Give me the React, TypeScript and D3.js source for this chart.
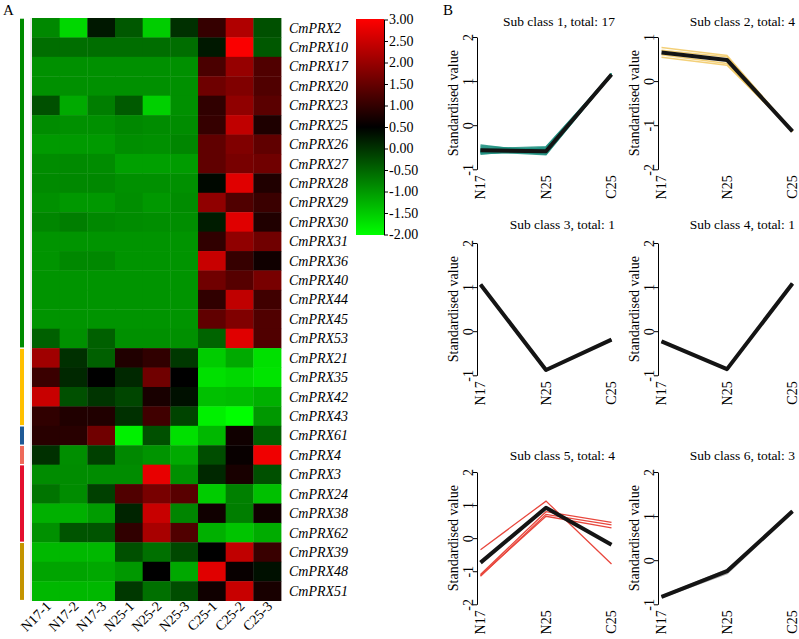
import React, { useEffect, useRef } from "react";
import * as d3 from "d3";

const W = 799;
const H = 639;

// ---------- Panel A: heatmap data ----------
const samples = ["N17-1", "N17-2", "N17-3", "N25-1", "N25-2", "N25-3", "C25-1", "C25-2", "C25-3"];

const genes = [
  "CmPRX2", "CmPRX10", "CmPRX17", "CmPRX20", "CmPRX23", "CmPRX25", "CmPRX26", "CmPRX27",
  "CmPRX28", "CmPRX29", "CmPRX30", "CmPRX31", "CmPRX36", "CmPRX40", "CmPRX44", "CmPRX45",
  "CmPRX53", "CmPRX21", "CmPRX35", "CmPRX42", "CmPRX43", "CmPRX61", "CmPRX4", "CmPRX3",
  "CmPRX24", "CmPRX38", "CmPRX62", "CmPRX39", "CmPRX48", "CmPRX51",
];

const heatValues: number[][] = [
  [-0.83, -1.61, 0.26, -0.36, -1.51, 0.03, 1.02, 2.23, -0.28],
  [-0.58, -0.58, -0.58, -0.58, -0.58, -0.58, 0.26, 2.95, -0.36],
  [-0.91, -0.91, -0.91, -0.91, -0.91, -0.91, 1.23, 1.97, 1.28],
  [-0.91, -0.91, -0.91, -0.91, -0.91, -0.91, 1.58, 1.75, 1.28],
  [-0.28, -1.17, -0.74, -0.38, -1.54, -0.91, 0.97, 1.91, 1.38],
  [-0.87, -0.91, -0.91, -0.83, -0.87, -0.87, 1.02, 2.38, 0.79],
  [-1.01, -1.01, -1.01, -0.89, -0.91, -0.81, 1.44, 1.75, 1.44],
  [-0.87, -0.85, -0.87, -1.07, -1.07, -1.03, 1.44, 1.68, 1.6],
  [-0.85, -0.83, -0.83, -0.91, -0.91, -0.91, 0.42, 2.7, 0.81],
  [-0.91, -0.99, -0.99, -0.89, -0.99, -0.87, 1.91, 1.28, 1.07],
  [-0.81, -0.74, -0.83, -0.87, -0.89, -0.89, 0.23, 2.7, 0.81],
  [-0.95, -0.95, -0.95, -0.95, -0.95, -0.95, 0.97, 1.91, 1.6],
  [-0.95, -0.83, -0.83, -0.95, -0.95, -0.95, 2.46, 1.03, 0.66],
  [-0.95, -0.95, -0.95, -0.95, -0.95, -0.95, 1.6, 1.34, 1.68],
  [-0.95, -0.95, -0.95, -0.95, -0.95, -0.95, 0.97, 2.38, 1.13],
  [-0.95, -0.95, -0.95, -0.95, -0.95, -0.95, 1.44, 1.75, 1.28],
  [-0.44, -0.91, -0.44, -0.91, -0.91, -0.91, -0.48, 2.7, 1.28],
  [2.07, 0.03, -0.44, 0.81, 0.97, -0.05, -1.5, -1.17, -1.7],
  [1.07, 0.11, 0.5, 0.11, 1.6, 0.5, -1.7, -1.62, -1.74],
  [2.46, -0.28, -0.01, -0.19, 0.74, 0.34, -1.38, -1.34, -1.23],
  [0.97, 0.81, 0.81, 0.03, 1.13, -0.17, -1.85, -2.0, -0.99],
  [0.89, 0.89, 1.6, -1.85, -0.28, -1.7, -1.3, 0.66, -0.44],
  [0.03, -0.89, -0.13, -0.83, -0.95, -1.17, -0.25, 0.58, 2.85],
  [-0.87, -0.87, -0.87, -0.87, 2.77, -0.91, 0.11, 0.74, -0.28],
  [-0.64, -0.87, -0.13, 1.28, 1.68, 1.36, -1.5, -0.75, -1.38],
  [-1.23, -1.23, -1.03, 0.15, 2.46, -0.8, 0.66, -0.74, 0.66],
  [-0.91, -0.32, -0.32, 0.97, 2.15, 1.28, -1.23, -1.42, -1.19],
  [-1.3, -1.3, -1.3, -0.28, -0.6, -0.21, 0.5, 2.38, 1.05],
  [-1.11, -1.11, -1.15, -0.99, 0.5, -1.15, 2.7, 0.58, 0.34],
  [-1.3, -1.3, -1.3, -0.05, -0.6, -0.25, 0.66, 2.46, 0.74],
];

// number of genes in each sub class, in row order
const groupSizes = [17, 4, 1, 1, 4, 3];
const groupColors = ["#008c00", "#ffc000", "#1f5a96", "#ee6a5a", "#e4102e", "#c49400"];

const legendTicks = [3, 2.5, 2, 1.5, 1, 0.5, 0, -0.5, -1, -1.5, -2];

// ---------- Panel B: sub class profiles ----------
const stages = ["N17", "N25", "C25"];

const class1Lines = [
  [-0.45, -0.62, 1.13],
  [-0.62, -0.5, 1.16],
  [-0.55, -0.66, 1.14],
  [-0.6, -0.55, 1.17],
  [-0.66, -0.52, 1.12],
  [-0.5, -0.6, 1.15],
  [-0.58, -0.64, 1.16],
  [-0.63, -0.58, 1.14],
  [-0.54, -0.49, 1.13],
  [-0.57, -0.61, 1.17],
  [-0.61, -0.56, 1.15],
  [-0.48, -0.57, 1.14],
  [-0.64, -0.6, 1.16],
  [-0.56, -0.53, 1.12],
  [-0.59, -0.67, 1.15],
  [-0.52, -0.59, 1.16],
  [-0.6, -0.54, 1.14],
];
const class1Center = [-0.57, -0.59, 1.15];

const class2Lines = [
  [0.76, 0.58, -1.13],
  [0.7, 0.55, -1.14],
  [0.6, 0.4, -1.15],
  [0.54, 0.36, -1.12],
];
const class2Center = [0.65, 0.48, -1.14];

const class3Lines = [[1.06, -0.88, -0.19]];
const class3Center = [1.06, -0.88, -0.19];

const class4Lines = [[-0.23, -0.86, 1.08]];
const class4Center = [-0.23, -0.86, 1.08];

const class5Lines = [
  [-0.35, 1.12, -0.78],
  [-1.1, 0.8, 0.48],
  [-1.13, 0.66, 0.31],
  [-1.15, 0.72, 0.4],
];
const class5Center = [-0.74, 0.92, -0.2];

const class6Lines = [
  [-0.82, -0.22, 1.11],
  [-0.84, -0.3, 1.1],
  [-0.83, -0.25, 1.12],
];
const class6Center = [-0.83, -0.25, 1.11];

const classTitles = [
  "Sub class 1, total: 17",
  "Sub class 2, total: 4",
  "Sub class 3, total: 1",
  "Sub class 4, total: 1",
  "Sub class 5, total: 4",
  "Sub class 6, total: 3",
];

const SERIF = "'Liberation Serif', 'Times New Roman', serif";

export default function App() {
  const ref = useRef<SVGSVGElement>(null);

  useEffect(() => {
    document.body.style.margin = "0";
    const svg = d3.select(ref.current);
    svg.selectAll("*").remove();
    svg.append("rect").attr("width", W).attr("height", H).attr("fill", "#fff");

    // ================= Panel A =================
    const gA = svg.append("g");
    gA.append("text").attr("x", 3).attr("y", 15).attr("font-family", SERIF).attr("font-size", 15).text("A");

    const x = d3.scaleBand<string>().domain(samples).range([32, 281]);
    const y = d3.scaleBand<string>().domain(genes).range([18, 600.6]);
    const color = d3
      .scaleLinear<string>()
      .domain([-2, 0.5, 3])
      .range(["#00ff00", "#000000", "#ff0000"])
      .clamp(true);

    const cells = genes.flatMap((g, i) => samples.map((s, j) => ({ g, s, v: heatValues[i][j] })));
    gA.append("g")
      .selectAll("rect")
      .data(cells)
      .join("rect")
      .attr("x", (d) => x(d.s)!)
      .attr("y", (d) => y(d.g)!)
      .attr("width", x.bandwidth() + 0.4)
      .attr("height", y.bandwidth() + 0.4)
      .attr("fill", (d) => color(d.v));

    // thin separator left of the heatmap
    gA.append("line")
      .attr("x1", 31).attr("x2", 31).attr("y1", 18).attr("y2", 600.6)
      .attr("stroke", "#d8d8d8").attr("stroke-width", 1);

    // sub class colour bars
    let start = 0;
    const groups = groupSizes.map((n, k) => {
      const r = { start, n, color: groupColors[k] };
      start += n;
      return r;
    });
    gA.append("g")
      .selectAll("rect")
      .data(groups)
      .join("rect")
      .attr("x", 20)
      .attr("width", 4)
      .attr("y", (d) => y(genes[d.start])! + 0.7)
      .attr("height", (d) => d.n * y.bandwidth() - 1.4)
      .attr("fill", (d) => d.color);

    // gene names
    gA.append("g")
      .selectAll("text")
      .data(genes)
      .join("text")
      .attr("x", 289)
      .attr("y", (d) => y(d)! + y.bandwidth() / 2)
      .attr("dy", "0.35em")
      .attr("font-family", SERIF)
      .attr("font-style", "italic")
      .attr("font-size", 14)
      .text((d) => d);

    // sample names
    gA.append("g")
      .selectAll("text")
      .data(samples)
      .join("text")
      .attr("transform", (d) => `translate(${x(d)! + x.bandwidth() / 2 + 6},${607}) rotate(-45)`)
      .attr("text-anchor", "end")
      .attr("font-family", SERIF)
      .attr("font-size", 14)
      .text((d) => d);

    // colour key
    const defs = svg.append("defs");
    const grad = defs
      .append("linearGradient")
      .attr("id", "heatKey")
      .attr("x1", 0).attr("x2", 0).attr("y1", 0).attr("y2", 1);
    const stopsV = d3.range(0, 11).map((k) => 3 - k * 0.5);
    grad
      .selectAll("stop")
      .data(stopsV)
      .join("stop")
      .attr("offset", (d, k) => `${(k / 10) * 100}%`)
      .attr("stop-color", (d) => color(d));

    const ly = d3.scaleLinear().domain([3, -2]).range([19.5, 234.5]);
    gA.append("rect")
      .attr("x", 356).attr("y", 19).attr("width", 28).attr("height", 216)
      .attr("fill", "url(#heatKey)");
    const keyAxis = gA
      .append("g")
      .attr("transform", "translate(384,0)")
      .call(
        d3
          .axisRight(ly)
          .tickValues(legendTicks)
          .tickSize(4)
          .tickSizeOuter(0)
          .tickFormat((d) => (d as number).toFixed(2))
      );
    keyAxis.selectAll("text").attr("font-family", SERIF).attr("font-size", 14).attr("x", 5).attr("fill", "#000");
    keyAxis.select(".domain").attr("stroke", "#000");
    keyAxis.selectAll(".tick line").attr("stroke", "#000");

    // ================= Panel B =================
    const gB = svg.append("g");
    gB.append("text").attr("x", 443).attr("y", 15).attr("font-family", SERIF).attr("font-size", 15).text("B");

    const colLeft = { axX: 477, x0: 480.5, x1: 611.5, titleX: 615 };
    const colRight = { axX: 658, x0: 661.5, x1: 792.5, titleX: 795 };
    const rows = [
      { top: 37, titleY: 26 },
      { top: 243, titleY: 229 },
      { top: 472, titleY: 460 },
    ];
    const plotH = 132.3;

    const panels = [
      { col: colLeft, row: rows[0], dom: [-1, 2], lines: class1Lines, center: class1Center, color: "#1f9080", lw: 1.5, op: 0.85 },
      { col: colRight, row: rows[0], dom: [-2, 1], lines: class2Lines, center: class2Center, color: "#efc04c", lw: 1.5, op: 0.75 },
      { col: colLeft, row: rows[1], dom: [-1, 2], lines: class3Lines, center: class3Center, color: "#555", lw: 1.5, op: 1 },
      { col: colRight, row: rows[1], dom: [-1, 2], lines: class4Lines, center: class4Center, color: "#555", lw: 1.5, op: 1 },
      { col: colLeft, row: rows[2], dom: [-2, 2], lines: class5Lines, center: class5Center, color: "#e8473d", lw: 1.3, op: 1 },
      { col: colRight, row: rows[2], dom: [-1, 2], lines: class6Lines, center: class6Center, color: "#9a9a9a", lw: 2, op: 0.8 },
    ];

    panels.forEach((p, k) => {
      const g = gB.append("g");
      const xs = d3.scalePoint<string>().domain(stages).range([p.col.x0, p.col.x1]);
      const ys = d3.scaleLinear().domain(p.dom).range([p.row.top + plotH, p.row.top]);
      const ticks = d3.range(p.dom[0], p.dom[1] + 1);

      // y axis
      const ax = g
        .append("g")
        .attr("transform", `translate(${p.col.axX},0)`)
        .call(d3.axisLeft(ys).tickValues(ticks).tickSize(4).tickSizeOuter(0).tickFormat((d) => String(d)));
      ax.select(".domain").attr("stroke", "#000");
      ax.selectAll(".tick line").attr("stroke", "#000");
      ax.selectAll("text")
        .attr("x", null)
        .attr("dy", null)
        .attr("transform", "translate(-4,0) rotate(-90)")
        .attr("text-anchor", "middle")
        .attr("font-family", SERIF)
        .attr("font-size", 14)
        .attr("fill", "#000");

      // x labels
      g.append("g")
        .selectAll("text")
        .data(stages)
        .join("text")
        .attr("transform", (d) => `translate(${xs(d)},${p.row.top + plotH + 6}) rotate(-90)`)
        .attr("text-anchor", "end")
        .attr("dy", "0.35em")
        .attr("font-family", SERIF)
        .attr("font-size", 14)
        .text((d) => d);

      // y label
      g.append("text")
        .attr("transform", `translate(${p.col.axX - 19},${p.row.top + plotH / 2}) rotate(-90)`)
        .attr("text-anchor", "middle")
        .attr("font-family", SERIF)
        .attr("font-size", 14)
        .text("Standardised value");

      // title
      g.append("text")
        .attr("x", p.col.titleX)
        .attr("y", p.row.titleY)
        .attr("text-anchor", "end")
        .attr("font-family", SERIF)
        .attr("font-size", 13.5)
        .text(classTitles[k]);

      const line = d3
        .line<number>()
        .x((d, i) => xs(stages[i])!)
        .y((d) => ys(d));

      g.append("g")
        .selectAll("path")
        .data(p.lines)
        .join("path")
        .attr("d", (d) => line(d))
        .attr("fill", "none")
        .attr("stroke", p.color)
        .attr("stroke-opacity", p.op)
        .attr("stroke-width", p.lw);

      g.append("path")
        .attr("d", line(p.center))
        .attr("fill", "none")
        .attr("stroke", "#141414")
        .attr("stroke-width", 4)
        .attr("stroke-linejoin", "round");
    });
  }, []);

  return <svg ref={ref} width={W} height={H} style={{ display: "block" }} />;
}
